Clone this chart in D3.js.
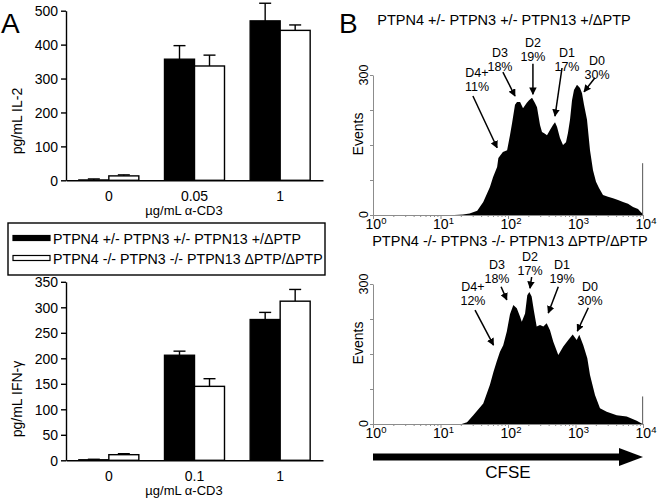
<!DOCTYPE html>
<html>
<head>
<meta charset="utf-8">
<script src="https://cdn.jsdelivr.net/npm/d3@7/dist/d3.min.js"></script>
<style>
  body { margin: 0; background: #fff; }
  text { font-family: "Liberation Sans", Arial, sans-serif; fill: #000; }
</style>
</head>
<body>
<div id="fig"></div>
<script>
// ---- panel A data ----
const series = ["PTPN4 +/- PTPN3 +/- PTPN13 +/\u0394PTP", "PTPN4 -/- PTPN3 -/- PTPN13 \u0394PTP/\u0394PTP"];

const il2Doses = ["0", "0.05", "1"];
const il2Het = [1, 357, 470];
const il2HetSem = [3, 40, 52];
const il2Ko = [13, 337, 442];
const il2KoSem = [3, 32, 16];
const il2Ticks = [0, 100, 200, 300, 400, 500];

const ifnDoses = ["0", "0.1", "1"];
const ifnHet = [1, 206, 276];
const ifnHetSem = [1, 8, 14];
const ifnKo = [11, 145, 312];
const ifnKoSem = [2, 15, 23];
const ifnTicks = [0, 50, 100, 150, 200, 250, 300, 350];

// ---- panel B data (CFSE histograms) ----
const hetCfse = [16, 21.5, 27, 35, 43, 54, 60, 69, 72, 84, 97, 107, 115, 127, 136, 151, 167, 189, 205, 227,
  251, 269, 298, 319, 353, 378, 419, 464, 497, 532, 589, 653, 723, 774, 829, 888, 950, 1052, 1166, 1249,
  1337, 1481, 1640, 1817, 2013, 2230, 2555, 3030, 3594, 4264, 5058, 6000, 7117, 8442, 9330, 9800, 10000];
const hetEvents = [0, 1, 3, 9, 28, 60, 81, 103, 122, 135, 139, 171, 197, 236, 242, 242, 229, 240, 246, 251,
  240, 231, 193, 178, 174, 171, 182, 193, 199, 189, 165, 150, 156, 176, 204, 246, 268, 279, 272, 261,
  236, 204, 139, 96, 71, 58, 43, 39, 36, 32, 28, 24, 17, 13, 6, 3, 0];
const hetSpike = [9880, 111];

const koCfse = [20.6, 24.7, 30.6, 43, 54, 61, 68, 76, 85, 96, 107, 120, 135, 151, 160, 179, 193, 207, 224, 243,
  266, 298, 334, 374, 419, 469, 556, 660, 782, 909, 1042, 1138, 1305, 1496, 1640, 1944, 2306, 2898, 4077, 5737,
  8070, 9570, 10000];
const koEvents = [0, 4, 19, 44, 84, 112, 134, 155, 169, 198, 235, 255, 248, 230, 219, 237, 276, 283, 273, 241,
  209, 212, 209, 216, 201, 176, 148, 166, 180, 192, 180, 191, 169, 141, 105, 62, 34, 26, 19, 16,
  7, 1, 0];
const koSpike = [9880, 59];

const gens = ["D4+", "D3", "D2", "D1", "D0"];
const hetPct = ["11%", "18%", "19%", "17%", "30%"];
const koPct = ["12%", "18%", "17%", "19%", "30%"];
// annotation anchors, in (CFSE, events)
const hetText = [[34.7, 306], [76, 349], [234, 369], [748, 349], [2083, 332]];
const hetTail = [[30.2, 255], [84, 306], [234, 324], [631, 315], [1944, 294]];
const hetTip = [[69, 144], [127, 255], [234, 259], [497, 212], [1337, 264]];
const koText = [[30.3, 294], [68.7, 341], [212, 358], [631, 341], [1640, 294]];
const koTail = [[32.5, 244], [79, 294], [224, 315], [556, 294], [1549, 249]];
const koTip = [[61, 169], [96, 266], [212, 291], [395, 238], [1064, 199]];

const W = 659, H = 498;
const svg = d3.select("#fig").append("svg")
  .attr("width", W).attr("height", H);

svg.append("defs").append("marker")
  .attr("id", "ah")
  .attr("viewBox", "0 0 10 10")
  .attr("refX", 9).attr("refY", 5)
  .attr("markerWidth", 5).attr("markerHeight", 5)
  .attr("markerUnits", "strokeWidth")
  .attr("orient", "auto")
  .append("path").attr("d", "M0,0L10,5L0,10z").attr("fill", "#000");

// panel letters
svg.append("text").attr("x", 1).attr("y", 33).style("font-size", "28px").text("A");
svg.append("text").attr("x", 339).attr("y", 33).style("font-size", "28px").text("B");

// ---- bar chart ----
function barChart(opts) {
  const g = svg.append("g");
  const x = d3.scaleBand().domain(opts.doses).range([66, 323]);
  const y = d3.scaleLinear().domain(opts.domain).range([opts.y0, opts.y1]);
  const bw = 30;

  const yAxis = g.append("g")
    .attr("transform", "translate(66,0)")
    .call(d3.axisLeft(y).tickValues(opts.ticks).tickSize(5).tickSizeOuter(0).tickPadding(3));
  yAxis.selectAll("text").style("font-size", "14px").attr("dy", "0.36em");
  yAxis.selectAll("line,path").attr("stroke", "#000").attr("stroke-width", 1.4);

  const xAxis = g.append("g")
    .attr("transform", `translate(0,${opts.y0})`)
    .call(d3.axisBottom(x).tickSize(0).tickPadding(11).tickSizeOuter(0));
  xAxis.selectAll("text").style("font-size", "14px");
  xAxis.select("path").attr("stroke", "#000").attr("stroke-width", 1.4);

  const sets = [
    { vals: opts.het, sem: opts.hetSem, fill: "#000", off: -bw },
    { vals: opts.ko, sem: opts.koSem, fill: "#fff", off: 0 }
  ];
  sets.forEach(s => {
    const cx = d => x(d) + x.bandwidth() / 2 + s.off;
    // error bars first so the bar outline sits on top
    g.selectAll(null).data(opts.doses).enter().append("line")
      .attr("x1", d => cx(d) + bw / 2).attr("x2", d => cx(d) + bw / 2)
      .attr("y1", (d, i) => y(s.vals[i])).attr("y2", (d, i) => y(s.vals[i] + s.sem[i]))
      .attr("stroke", "#000").attr("stroke-width", 1.4);
    g.selectAll(null).data(opts.doses).enter().append("line")
      .attr("x1", d => cx(d) + bw / 2 - 6).attr("x2", d => cx(d) + bw / 2 + 6)
      .attr("y1", (d, i) => y(s.vals[i] + s.sem[i])).attr("y2", (d, i) => y(s.vals[i] + s.sem[i]))
      .attr("stroke", "#000").attr("stroke-width", 1.4);
    g.selectAll(null).data(opts.doses).enter().append("rect")
      .attr("x", d => cx(d)).attr("width", bw)
      .attr("y", (d, i) => y(s.vals[i])).attr("height", (d, i) => y(0) - y(s.vals[i]))
      .attr("fill", s.fill).attr("stroke", "#000").attr("stroke-width", 1.4);
  });

  g.append("text").attr("x", 184).attr("y", opts.y0 + 34.5)
    .attr("text-anchor", "middle").style("font-size", "13px")
    .text("\u00b5g/mL \u03b1-CD3");
  g.append("text")
    .attr("transform", `translate(22,${opts.ylabY}) rotate(-90)`)
    .attr("text-anchor", "middle").style("font-size", "14px")
    .text(opts.ylabel);
}

barChart({ doses: il2Doses, het: il2Het, hetSem: il2HetSem, ko: il2Ko, koSem: il2KoSem,
  domain: [0, 500], ticks: il2Ticks, y0: 180.3, y1: 10.7, ylabel: "pg/mL IL-2", ylabY: 121 });
barChart({ doses: ifnDoses, het: ifnHet, hetSem: ifnHetSem, ko: ifnKo, koSem: ifnKoSem,
  domain: [0, 350], ticks: ifnTicks, y0: 460.3, y1: 281.8, ylabel: "pg/mL IFN-\u03b3", ylabY: 399 });

// legend
const leg = svg.append("g");
leg.append("rect").attr("x", 8).attr("y", 223).attr("width", 317).attr("height", 52)
  .attr("fill", "none").attr("stroke", "#000").attr("stroke-width", 1.4);
series.forEach((s, i) => {
  leg.append("rect").attr("x", 13).attr("y", 235.5 + i * 20).attr("width", 37).attr("height", 5)
    .attr("fill", i === 0 ? "#000" : "#fff").attr("stroke", "#000").attr("stroke-width", 1.2);
  leg.append("text").attr("x", 53).attr("y", 243.5 + i * 20).style("font-size", "14.2px").text(s);
});

// ---- histograms ----
const hx = d3.scaleLog().domain([1, 10000]).range([373, 643]);
const axisGray = "#8c8c8c";

function histogram(opts) {
  const g = svg.append("g");
  const y = d3.scaleLinear().domain([0, 300]).range([opts.y0, opts.y0 - 140]);

  const area = d3.area()
    .x((d, i) => hx(opts.cfse[i]))
    .y0(y(0))
    .y1((d, i) => y(opts.events[i]));
  g.append("path").datum(opts.events).attr("d", area).attr("fill", "#000");
  g.append("line")
    .attr("x1", hx(opts.spike[0])).attr("x2", hx(opts.spike[0]))
    .attr("y1", y(0)).attr("y2", y(opts.spike[1]))
    .attr("stroke", "#555").attr("stroke-width", 1);

  // x axis
  const decades = [1, 10, 100, 1000, 10000];
  const minors = hx.ticks().filter(v => !decades.includes(v));
  const xa = g.append("g").attr("transform", `translate(0,${opts.y0})`);
  xa.call(d3.axisBottom(hx).tickValues(minors).tickSize(2).tickSizeOuter(0).tickFormat(""));
  const xb = g.append("g").attr("transform", `translate(0,${opts.y0})`);
  xb.call(d3.axisBottom(hx).tickValues(decades).tickSize(4).tickSizeOuter(0).tickFormat(""));
  g.selectAll("path.domain, .tick line").attr("stroke", axisGray).attr("stroke-width", 1);

  decades.forEach((v, i) => {
    const t = g.append("text").attr("x", hx(v) + 3).attr("y", opts.y0 + 14)
      .attr("text-anchor", "middle").style("font-size", "14px");
    t.append("tspan").text("10");
    t.append("tspan").attr("dy", -5).style("font-size", "9.5px").text(i);
  });

  // y axis
  const ya = g.append("g").attr("transform", "translate(373,0)");
  ya.call(d3.axisLeft(y).tickValues([0, 75, 150, 225, 300]).tickSize(3).tickSizeOuter(0).tickFormat(""));
  ya.selectAll("path, line").attr("stroke", axisGray).attr("stroke-width", 1);
  [0, 300].forEach(v => {
    g.append("text")
      .attr("transform", `translate(368,${y(v)}) rotate(-90)`)
      .attr("text-anchor", v === 0 ? "start" : "middle").style("font-size", "12.5px")
      .attr("dx", v === 0 ? -3 : 0)
      .text(v);
  });
  g.append("text")
    .attr("transform", `translate(363,${opts.y0 - 81}) rotate(-90)`)
    .attr("text-anchor", "middle").style("font-size", "14px").text("Events");

  g.append("text").attr("x", opts.titleX).attr("y", opts.titleY)
    .attr("text-anchor", "middle").style("font-size", "14.5px").text(opts.title);

  // generation annotations
  gens.forEach((lab, i) => {
    const tx = hx(opts.text[i][0]), ty = y(opts.text[i][1]);
    g.append("text").attr("x", tx).attr("y", ty + 4.5)
      .attr("text-anchor", "middle").style("font-size", "12.5px").text(lab);
    g.append("text").attr("x", tx).attr("y", ty + 18.5)
      .attr("text-anchor", "middle").style("font-size", "12.5px").text(opts.pct[i]);
    g.append("line")
      .attr("x1", hx(opts.tail[i][0])).attr("y1", y(opts.tail[i][1]))
      .attr("x2", hx(opts.tip[i][0])).attr("y2", y(opts.tip[i][1]))
      .attr("stroke", "#000").attr("stroke-width", 1.5)
      .attr("marker-end", "url(#ah)");
  });
}

histogram({ cfse: hetCfse, events: hetEvents, spike: hetSpike, y0: 215,
  title: series[0], titleX: 504, titleY: 25, text: hetText, tail: hetTail, tip: hetTip, pct: hetPct });
histogram({ cfse: koCfse, events: koEvents, spike: koSpike, y0: 424,
  title: series[1], titleX: 510, titleY: 246, text: koText, tail: koTail, tip: koTip, pct: koPct });

// CFSE arrow
const ar = svg.append("g");
ar.append("rect").attr("x", hx(1)).attr("y", 453.5).attr("width", hx(10000) - 22 - hx(1)).attr("height", 7)
  .attr("fill", "#000");
ar.append("path")
  .attr("d", `M${hx(10000) - 24},448 L${hx(10000)},457 L${hx(10000) - 24},466 Z`)
  .attr("fill", "#000");
ar.append("text").attr("x", 508).attr("y", 478).attr("text-anchor", "middle")
  .style("font-size", "17px").text("CFSE");
</script>
</body>
</html>
